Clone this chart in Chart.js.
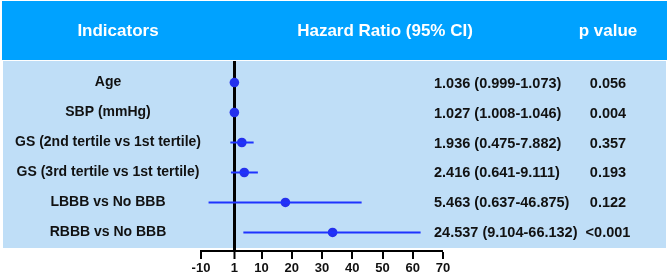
<!DOCTYPE html>
<html>
<head>
<meta charset="utf-8">
<script src="https://cdn.jsdelivr.net/npm/chart.js@4"></script>
<style>
  html, body { margin: 0; padding: 0; background: #fff; }
  canvas { display: block; }
</style>
</head>
<body>
<canvas id="forest" width="671" height="275"></canvas>
<script>
const FONT = 'Arial, "Liberation Sans", sans-serif';

const indicators = [
  "Age",
  "SBP (mmHg)",
  "GS (2nd tertile vs 1st tertile)",
  "GS (3rd tertile vs 1st tertile)",
  "LBBB vs No BBB",
  "RBBB vs No BBB"
];
const hrText = [
  "1.036 (0.999-1.073)",
  "1.027 (1.008-1.046)",
  "1.936 (0.475-7.882)",
  "2.416 (0.641-9.111)",
  "5.463 (0.637-46.875)",
  "24.537 (9.104-66.132)"
];
const pText = ["0.056", "0.004", "0.357", "0.193", "0.122", "<0.001"];

// positions as drawn in the figure (x axis units)
const pointEst = [1.04, 1.03, 3.5, 4.3, 17.9, 33.5];
const ciLow    = [0.999, 1.008, -0.3, -0.1, -7.5, 4.0];
const ciHigh   = [1.073, 1.046, 7.4, 8.8, 43.1, 62.6];

const xTicks = [-10, 1, 10, 20, 30, 40, 50, 60, 70];
const headers = ["Indicators", "Hazard Ratio (95% CI)", "p value"];

const BLUE_DOT = "#2430ee";
const BLUE_LINE = "#1f33ff";

const datasets = [];
pointEst.forEach((v, i) => {
  datasets.push({
    data: [{ x: ciLow[i], y: i }, { x: ciHigh[i], y: i }],
    showLine: true,
    borderColor: BLUE_LINE,
    borderWidth: 2,
    pointRadius: 0
  });
});
datasets.push({
  data: pointEst.map((v, i) => ({ x: v, y: i })),
  backgroundColor: BLUE_DOT,
  borderColor: BLUE_DOT,
  borderWidth: 0,
  pointRadius: 4.8
});

const tablePlugin = {
  id: "table",
  beforeDraw(chart) {
    const c = chart.ctx;
    c.save();
    c.fillStyle = "#fff";
    c.fillRect(0, 0, chart.width, chart.height);
    c.fillStyle = "#00a2ff";
    c.fillRect(2, 1, 665, 59);
    c.fillStyle = "#bfdef7";
    c.fillRect(3, 61, 663, 187);
    c.fillStyle = "#fff";
    c.font = "bold 17px " + FONT;
    c.textAlign = "center";
    c.textBaseline = "middle";
    c.fillText(headers[0], 118, 31);
    c.fillText(headers[1], 385, 31);
    c.fillText(headers[2], 608, 31);
    c.restore();
  },
  afterDraw(chart) {
    const c = chart.ctx;
    const y = chart.scales.y;
    c.save();
    c.fillStyle = "#111";
    c.textBaseline = "middle";
    c.font = "bold 14px " + FONT;
    c.textAlign = "center";
    indicators.forEach((t, i) => c.fillText(t, 108, y.getPixelForValue(i)));
    c.font = "bold 14.5px " + FONT;
    c.textAlign = "left";
    hrText.forEach((t, i) => c.fillText(t, 434, y.getPixelForValue(i) + 1));
    c.textAlign = "center";
    pText.forEach((t, i) => c.fillText(t, 608, y.getPixelForValue(i) + 1));
    c.restore();
  }
};

new Chart(document.getElementById("forest"), {
  type: "scatter",
  data: { datasets: datasets },
  plugins: [tablePlugin],
  options: {
    responsive: false,
    animation: false,
    layout: { padding: { left: 201, right: 228, top: 61, bottom: 0 } },
    plugins: { legend: { display: false }, tooltip: { enabled: false } },
    scales: {
      x: {
        type: "linear",
        min: -10,
        max: 70,
        afterBuildTicks: (scale) => { scale.ticks = xTicks.map(v => ({ value: v })); },
        afterFit: (scale) => { scale.height = 24; },
        border: { display: true, color: "#000", width: 2 },
        grid: {
          color: (ctx) => (ctx.tick && ctx.tick.value === 1 ? "#000" : "rgba(0,0,0,0)"),
          lineWidth: (ctx) => (ctx.tick && ctx.tick.value === 1 ? 3 : 0),
          drawTicks: true,
          tickLength: 8,
          tickColor: "#000",
          tickWidth: 2
        },
        ticks: {
          autoSkip: false,
          maxRotation: 0,
          padding: 2,
          color: "#111",
          font: { family: FONT, size: 13, weight: "bold" }
        }
      },
      y: {
        type: "linear",
        reverse: true,
        min: -0.718,
        max: 5.618,
        display: false
      }
    }
  }
});
</script>
</body>
</html>
